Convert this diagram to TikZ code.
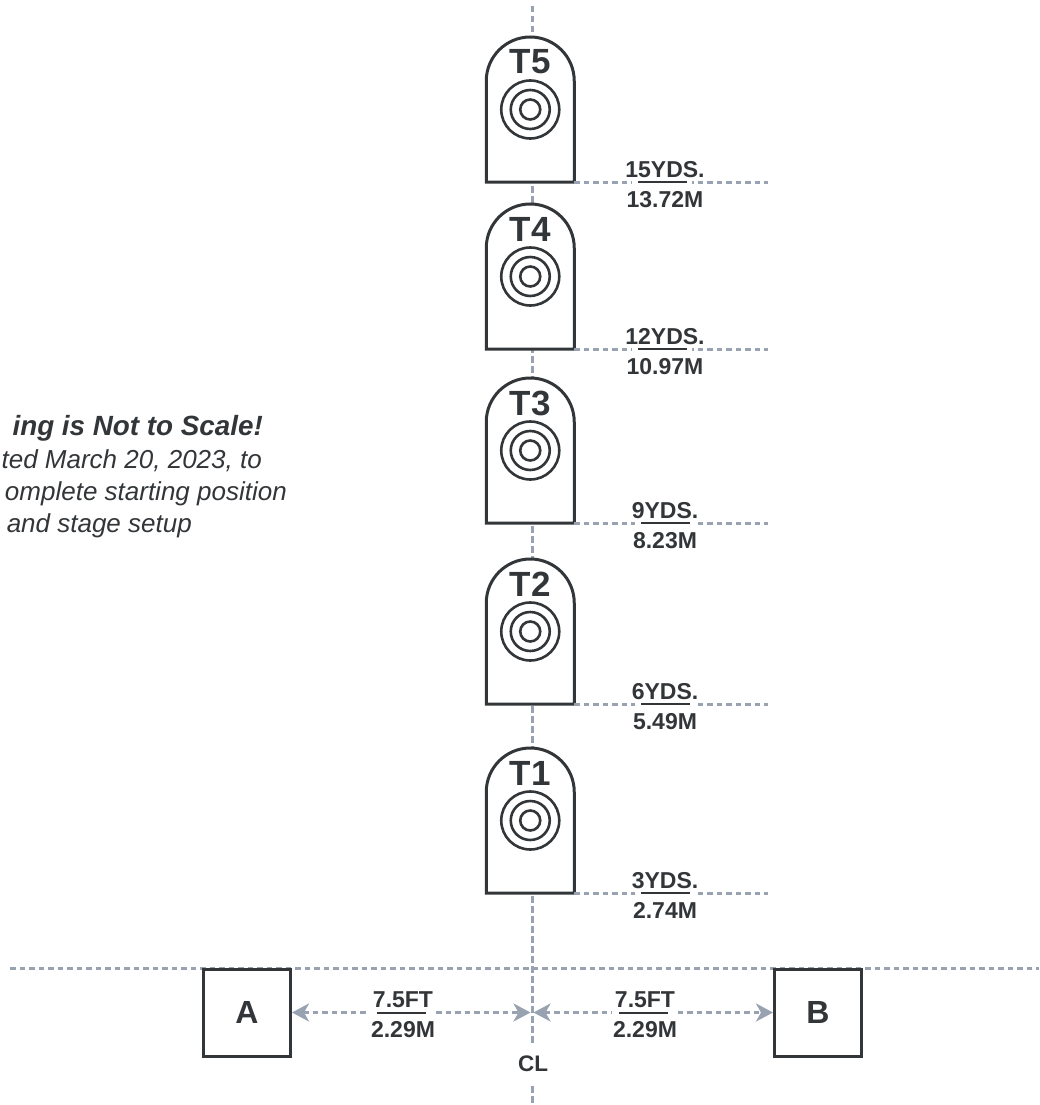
\documentclass[tikz,border=0pt]{standalone}
\usepackage{xcolor}
\usepackage{fontspec}
\setmainfont{Liberation Sans}
\usetikzlibrary{arrows.meta, positioning, calc}
\definecolor{inkdark}{HTML}{333639}
\definecolor{dimgray}{HTML}{98A2B0}

\begin{document}
\begin{tikzpicture}[
        x=1pt, y=-1pt,
        guide/.style={draw=dimgray, line width=3pt, dash pattern=on 5.5pt off 4pt},
        guidev/.style={draw=dimgray, line width=3pt, dash pattern=on 6.5pt off 3.5pt},
        dimarrow/.style={guide, {Stealth[length=17pt, width=18pt, inset=5pt, fill=dimgray]}-{Stealth[length=17pt, width=18pt, inset=5pt, fill=dimgray]}},
        box/.style={rectangle, draw=inkdark, line width=3pt, fill=white, minimum size=87pt, inner sep=0pt, font=\fontsize{32}{32}\selectfont\bfseries, text=inkdark},
        dimtext/.style={anchor=base, inner sep=0pt, font=\fontsize{23}{23}\selectfont\bfseries, text=inkdark},
        barmask/.style={rectangle, fill=white, minimum width=60pt, minimum height=4.5pt, inner sep=0pt},
        barline/.style={rectangle, fill=inkdark, minimum width=49pt, minimum height=2pt, inner sep=0pt},
        notehead/.style={anchor=base east, inner sep=0pt, font=\fontsize{27.8}{27.8}\selectfont\bfseries\itshape, text=inkdark},
        notetext/.style={anchor=base east, inner sep=0pt, font=\fontsize{26}{26}\selectfont\itshape, text=inkdark},
        target/.pic={
            \draw[draw=inkdark, line width=3pt, fill=white] (-44,0) -- (-44,-101) arc[start angle=180, end angle=0, radius=44pt] -- (44,0) -- cycle;
            \draw[draw=inkdark, line width=2.6pt] (0,-72.5) circle[radius=29pt];
            \draw[draw=inkdark, line width=2.6pt] (0,-72.5) circle[radius=19.5pt];
            \draw[draw=inkdark, line width=2.6pt] (0,-72.5) circle[radius=10pt];
            \node[anchor=base, inner sep=0pt, font=\fontsize{35}{35}\selectfont\bfseries, text=inkdark] (-name) at (0,-108) {#1};
            \coordinate (-corner) at (44,0);
        }
    ]
        \useasboundingbox (0,0) rectangle (1039,1105);

        % --- Guide lines ---
        \coordinate (top_end) at (532,6);
        \coordinate (bottom_end) at (532,1105);
        \coordinate (left_end) at (10,968);
        \coordinate (right_end) at (1039,968);
        \draw[guidev] (top_end) -- (bottom_end);
        \draw[guide] (left_end) -- (right_end);

        % --- Targets ---
        \pic (T5) at (530.25,182) {target={T5}};
        \pic (T4) at (530.25,349) {target={T4}};
        \pic (T3) at (530.25,523) {target={T3}};
        \pic (T2) at (530.25,704) {target={T2}};
        \pic (T1) at (530.25,893) {target={T1}};

        % --- Distance lines ---
        \coordinate (E5) at (768,182);
        \coordinate (E4) at (768,349);
        \coordinate (E3) at (768,523);
        \coordinate (E2) at (768,704);
        \coordinate (E1) at (768,893);
        \draw[guide] (T5-corner) -- (E5);
        \draw[guide] (T4-corner) -- (E4);
        \draw[guide] (T3-corner) -- (E3);
        \draw[guide] (T2-corner) -- (E2);
        \draw[guide] (T1-corner) -- (E1);

        % --- Distance labels ---
        \node[barmask] (M5) at (662,182) {};
        \node[barline] (R5) at (662,182) {};
        \node[dimtext] (D5a) at (665,177) {15YDS.};
        \node[dimtext] (D5b) at (665,207) {13.72M};

        \node[barmask] (M4) at (662,349) {};
        \node[barline] (R4) at (662,349) {};
        \node[dimtext] (D4a) at (665,344) {12YDS.};
        \node[dimtext] (D4b) at (665,374) {10.97M};

        \node[barmask] (M3) at (665,523) {};
        \node[barline] (R3) at (665,523) {};
        \node[dimtext] (D3a) at (665,518) {9YDS.};
        \node[dimtext] (D3b) at (665,548) {8.23M};

        \node[barmask] (M2) at (665,704) {};
        \node[barline] (R2) at (665,704) {};
        \node[dimtext] (D2a) at (665,699) {6YDS.};
        \node[dimtext] (D2b) at (665,729) {5.49M};

        \node[barmask] (M1) at (665,893) {};
        \node[barline] (R1) at (665,893) {};
        \node[dimtext] (D1a) at (665,888) {3YDS.};
        \node[dimtext] (D1b) at (665,918) {2.74M};

        % --- Shooting boxes ---
        \node[box] (A) at (247,1012.5) {A};
        \node[box] (B) at (818,1012.5) {B};
        \coordinate (CLa) at (530.5,1012.5);
        \coordinate (CLb) at (533.5,1012.5);
        \draw[dimarrow] (A.east) -- (CLa);
        \draw[dimarrow] (CLb) -- (B.west);

        \node[barmask, minimum width=62pt] (MA) at (401,1012.5) {};
        \node[barline] (RA) at (401,1012.5) {};
        \node[dimtext] (FA) at (403,1007.5) {7.5FT};
        \node[dimtext] (DA) at (403,1037) {2.29M};

        \node[barmask, minimum width=62pt] (MB) at (643,1012.5) {};
        \node[barline] (RB) at (643,1012.5) {};
        \node[dimtext] (FB) at (645,1007.5) {7.5FT};
        \node[dimtext] (DB) at (645,1037) {2.29M};

        \node[rectangle, fill=white, inner sep=0pt, minimum width=40pt, minimum height=38pt, font=\fontsize{22.5}{22.5}\selectfont\bfseries, text=inkdark] (CL) at (533,1064) {CL};

        % --- Note ---
        \node[notehead] (N1) at (263,435) {ing is Not to Scale!};
        \node[notetext] (N2) at (262,468) {ted March 20, 2023, to};
        \node[notetext] (N3) at (287,500) {omplete starting position};
        \node[notetext] (N4) at (192,532) {and stage setup};
    \end{tikzpicture}
\end{document}
